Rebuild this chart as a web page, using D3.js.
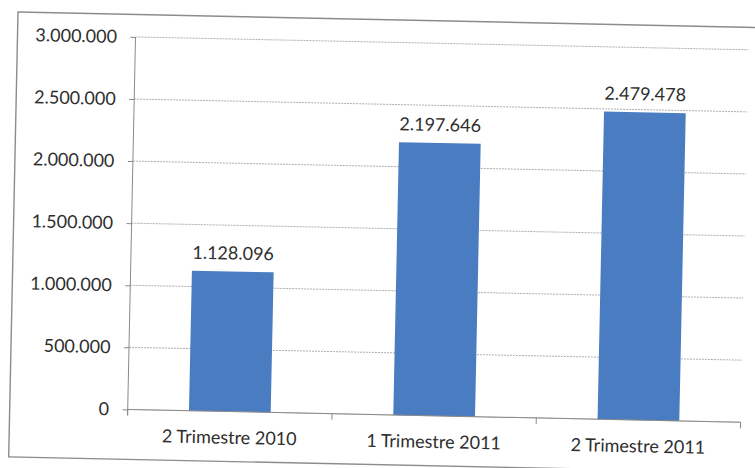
<!DOCTYPE html>
<meta charset="utf-8">
<style>
body { margin: 0; background: #fff; }
svg text { font-family: Lato, "Open Sans", sans-serif; fill: #2e2e2e; }
.grid line { stroke: #9a9a9a; stroke-dasharray: 2,1; stroke-width: 0.8; }
.axis path, .axis line { stroke: #8a8a8a; }
</style>
<body>
<svg width="755" height="468"></svg>
<script src="https://cdn.jsdelivr.net/npm/d3@7"></script>
<script>

// values
var categories = ["2 Trimestre 2010", "1 Trimestre 2011", "2 Trimestre 2011"];
var values = [1128096, 2197646, 2479478];
var valueLabels = ["1.128.096", "2.197.646", "2.479.478"];
var yTicks = [0, 500000, 1000000, 1500000, 2000000, 2500000, 3000000];

var svg = d3.select("svg");

// the scan is turned a little clockwise
var chart = svg.append("g")
    .attr("transform", "translate(18,12) rotate(1.2)");

var plotLeft = 118, plotRight = 731, plotTop = 22.5, plotBottom = 395;

// outer frame of the chart area
chart.append("rect")
    .attr("x", 0).attr("y", 0)
    .attr("width", 780).attr("height", 445)
    .attr("fill", "none")
    .attr("stroke", "#8c8c8c")
    .attr("stroke-width", 1.4);

var x = d3.scaleBand()
    .domain(categories)
    .range([plotLeft, plotRight])
    .paddingInner(0.6)
    .paddingOuter(0.3);

var y = d3.scaleLinear()
    .domain([0, 3000000])
    .range([plotBottom, plotTop]);

var fmt = function(d) { return d3.format(",")(d).replace(/,/g, "."); };

// gridlines
chart.append("g")
    .attr("class", "grid")
  .selectAll("line")
  .data(yTicks)
  .enter().append("line")
    .attr("x1", plotLeft)
    .attr("x2", plotRight)
    .attr("y1", function(d) { return y(d); })
    .attr("y2", function(d) { return y(d); });

// y axis
var yAxis = chart.append("g")
    .attr("class", "axis")
    .attr("transform", "translate(" + plotLeft + ",0)")
    .call(d3.axisLeft(y).tickValues(yTicks).tickFormat(fmt).tickSize(5).tickPadding(13.5).tickSizeOuter(0));
yAxis.selectAll("text").style("font-size", "18px");
yAxis.select(".domain").attr("d", "M0," + (plotBottom + 6) + "V" + plotTop);

// bars
chart.append("g")
  .selectAll("rect")
  .data(values)
  .enter().append("rect")
    .attr("x", function(d, i) { return x(categories[i]); })
    .attr("y", function(d) { return y(d); })
    .attr("width", x.bandwidth())
    .attr("height", function(d) { return plotBottom - y(d); })
    .attr("fill", "#4a7cc2");

// value labels
chart.append("g")
  .selectAll("text")
  .data(values)
  .enter().append("text")
    .attr("x", function(d, i) { return x(categories[i]) + x.bandwidth() / 2; })
    .attr("y", function(d) { return y(d) - 12; })
    .attr("text-anchor", "middle")
    .style("font-size", "18px")
    .text(function(d, i) { return valueLabels[i]; });

// x axis
var xAxis = chart.append("g")
    .attr("class", "axis")
    .attr("transform", "translate(0," + plotBottom + ")")
    .call(d3.axisBottom(x).tickSize(0).tickPadding(19.5));
xAxis.selectAll("text").style("font-size", "18px");
xAxis.select(".domain").attr("d", "M" + plotLeft + ",0H" + plotRight);

// category boundary ticks
var step = x.step();
xAxis.selectAll(".bound")
  .data(d3.range(categories.length + 1))
  .enter().append("line")
    .attr("class", "bound")
    .attr("x1", function(i) { return plotLeft + i * step; })
    .attr("x2", function(i) { return plotLeft + i * step; })
    .attr("y1", 0)
    .attr("y2", 6);

</script>
</body>
